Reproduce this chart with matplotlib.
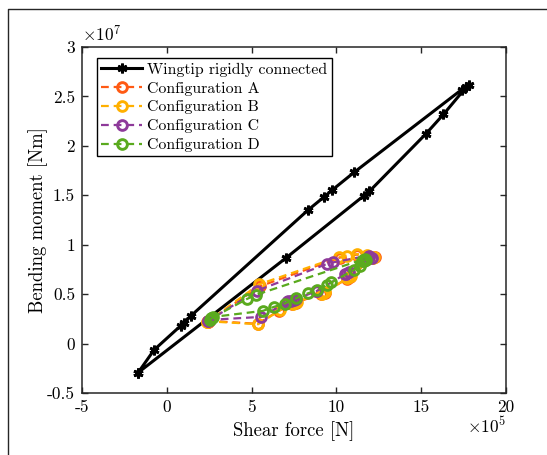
import numpy as np
import matplotlib
matplotlib.use('Agg')
import matplotlib.pyplot as plt

plt.rcParams['font.family'] = 'serif'
plt.rcParams['font.serif'] = ['cmr10']
plt.rcParams['mathtext.fontset'] = 'cm'
plt.rcParams['axes.unicode_minus'] = False

################## data (x in 1e5 N, y in 1e7 Nm) ##################
rigidX = [-1.69, -0.75, 0.81, 1.0, 1.40, 8.33, 9.29, 9.76, 11.05, 17.38, 17.81, 17.66,
          16.31, 15.28, 11.95, 11.63, 7.02, -1.69]
rigidY = [-0.294, -0.064, 0.179, 0.213, 0.277, 1.351, 1.486, 1.554, 1.733, 2.568, 2.611, 2.595,
          2.318, 2.122, 1.541, 1.497, 0.865, -0.294]

confAX = [2.40, 2.48, 5.35, 6.60, 7.40, 7.60, 9.10, 9.30, 10.60, 10.80, 12.10, 12.25, 11.20,
          10.20, 5.50, 2.40]
confAY = [0.220, 0.230, 0.200, 0.330, 0.400, 0.415, 0.500, 0.515, 0.655, 0.670, 0.865, 0.880, 0.900,
          0.870, 0.580, 0.220]

confBX = [2.35, 2.45, 5.39, 6.70, 7.45, 7.55, 7.65, 9.15, 9.23, 9.35, 10.65, 10.73, 10.85,
          12.15, 12.23, 11.80, 11.20, 10.60, 10.17, 5.45, 2.35]
confBY = [0.215, 0.225, 0.196, 0.340, 0.405, 0.416, 0.425, 0.505, 0.517, 0.525, 0.660, 0.669, 0.680,
          0.870, 0.878, 0.895, 0.905, 0.890, 0.878, 0.600, 0.215]

confCX = [2.45, 2.55, 5.58, 7.10, 7.17, 7.35, 7.50, 7.64, 8.80, 8.86, 10.50, 10.54, 10.73,
          11.80, 11.95, 12.10, 11.90, 9.79, 9.42, 5.30, 2.45]
confCY = [0.230, 0.240, 0.270, 0.420, 0.426, 0.435, 0.442, 0.449, 0.530, 0.534, 0.700, 0.703, 0.720,
          0.860, 0.875, 0.870, 0.890, 0.821, 0.804, 0.534, 0.230]

confDX = [2.55, 2.65, 2.75, 5.67, 6.33, 6.95, 7.64, 8.30, 8.86, 9.42, 9.70, 11.01, 11.39,
          11.48, 11.60, 11.76, 11.70, 11.55, 5.26, 4.70, 2.62]
confDY = [0.240, 0.255, 0.270, 0.331, 0.372, 0.405, 0.459, 0.507, 0.541, 0.591, 0.618, 0.743, 0.787,
          0.831, 0.840, 0.845, 0.860, 0.850, 0.493, 0.449, 0.255]

xTicks = [-5, 0, 5, 10, 15, 20]
yTicks = [-0.5, 0, 0.5, 1, 1.5, 2, 2.5, 3]
xTickLabels = ['-5', '0', '5', '10', '15', '20']
yTickLabels = ['-0.5', '0', '0.5', '1', '1.5', '2', '2.5', '3']

names = ['Configuration A', 'Configuration B', 'Configuration C', 'Configuration D']
colours = ['#FF5A14', '#FFB000', '#8E3A9A', '#5AAA1E']

fig = plt.figure(figsize=(5.47, 4.55), dpi=100)
ax = fig.add_axes([82 / 547, 1 - 393 / 455, 424 / 547, 346 / 455])

ax.plot(rigidX, rigidY, '-', color='k', lw=2.2, marker=(6, 2, 0), markersize=7, mew=2.0,
        label='Wingtip rigidly connected', zorder=2)

confs = [(confAX, confAY), (confBX, confBY), (confCX, confCY), (confDX, confDY)]
for (cx, cy), name, col in zip(confs, names, colours):
    ax.plot(cx, cy, linestyle=(0, (3.5, 2.2)), color=col, lw=1.6, marker='o', markersize=7,
            mfc='none', mec=col, mew=2.1, label=name, zorder=3)

ax.set_xlim(-5, 20)
ax.set_ylim(-0.5, 3)
ax.set_xticks(xTicks)
ax.set_xticklabels(xTickLabels)
ax.set_yticks(yTicks)
ax.set_yticklabels(yTickLabels)
ax.tick_params(direction='in', top=True, right=True, length=4, width=1.0, color='#262626',
               labelsize=12.5, pad=5)
for s in ax.spines.values():
    s.set_linewidth(1.1)
    s.set_color('#262626')

ax.set_xlabel('Shear force [N]', fontsize=13.5, labelpad=4)
ax.set_ylabel('Bending moment [Nm]', fontsize=13.5, labelpad=-1)
ax.text(0.0, 1.008, r'$\times10^{7}$', transform=ax.transAxes, ha='left', va='bottom', fontsize=12.5)
ax.text(1.0, -0.066, r'$\times10^{5}$', transform=ax.transAxes, ha='right', va='top', fontsize=12.5)

leg = ax.legend(loc='upper left', bbox_to_anchor=(0.035, 0.968), borderaxespad=0, fontsize=11.4,
                handlelength=2.6, handletextpad=0.3, labelspacing=0.3, borderpad=0.28,
                fancybox=False, framealpha=1, edgecolor='k', numpoints=1)
leg.get_frame().set_linewidth(1.0)

fig.add_artist(plt.Line2D([8 / 547, 8 / 547, 1.0], [0.0, 1 - 9 / 455, 1 - 9 / 455],
                          transform=fig.transFigure, color='#262626', lw=1.0))

fig.savefig('out.png', dpi=100)
